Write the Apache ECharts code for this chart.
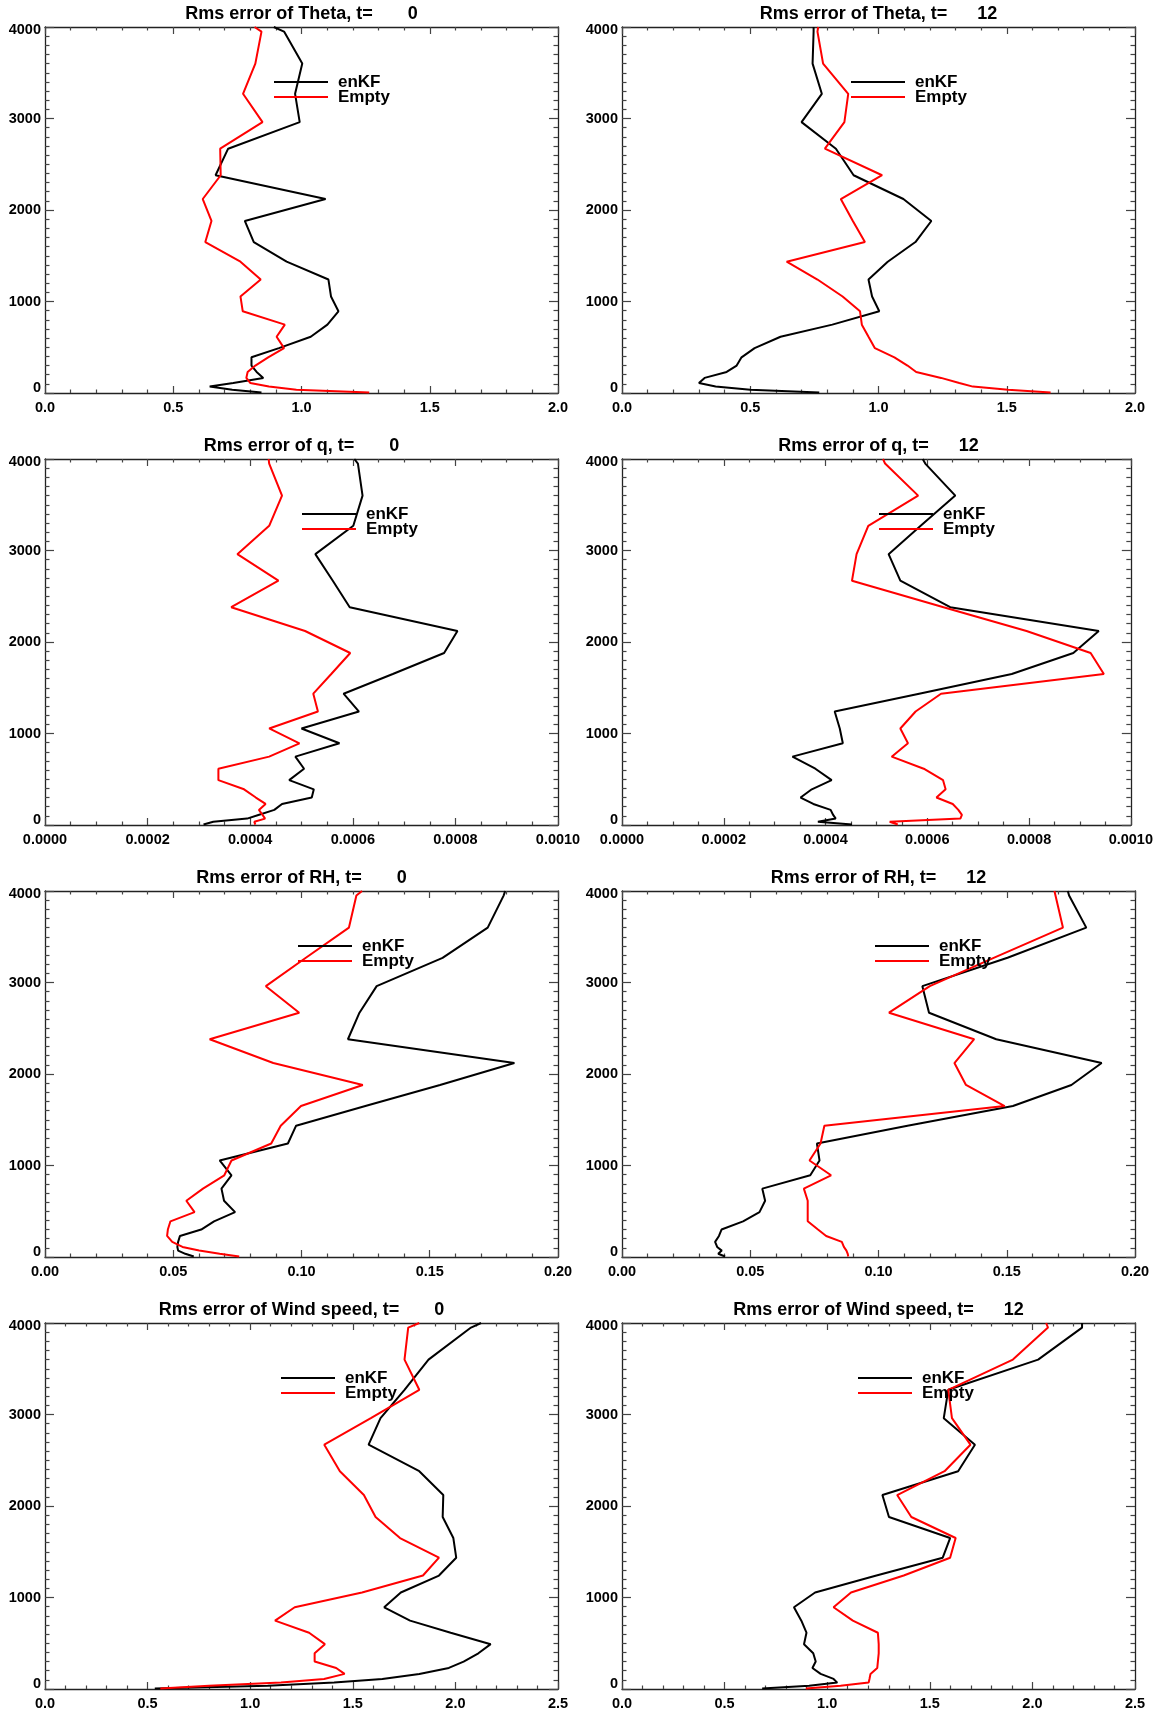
<!DOCTYPE html>
<html><head><meta charset="utf-8">
<script src="https://cdn.jsdelivr.net/npm/echarts@6/dist/echarts.min.js"></script>
<style>html,body{margin:0;padding:0;background:#fff}#c{width:1156px;height:1721px}</style>
</head><body><div id="c"></div>
<script>
// Heights (m) of the model levels
const levels = [5, 35, 70, 110, 165, 230, 300, 390, 490, 615, 747, 893, 1055, 1240, 1435, 1650, 1880, 2120, 2380, 2670, 2960, 3270, 3600, 3950, 4000];

// Theta
const thetaEnkf0  = [0.844,0.73,0.642,0.734,0.851,0.825,0.805,0.805,0.912,1.036,1.101,1.144,1.115,1.105,0.942,0.814,0.779,1.094,0.665,0.714,0.993,0.975,1.003,0.932,0.892];
const thetaEmpty0 = [1.264,0.98,0.873,0.80,0.785,0.79,0.82,0.87,0.932,0.903,0.935,0.771,0.762,0.841,0.762,0.625,0.649,0.615,0.685,0.683,0.848,0.772,0.82,0.844,0.817];
const thetaEnkf12  = [0.769,0.50,0.365,0.300,0.322,0.408,0.447,0.466,0.517,0.618,0.82,1.003,0.975,0.961,1.036,1.144,1.206,1.097,0.903,0.834,0.700,0.779,0.743,0.747,0.747];
const thetaEmpty12 = [1.671,1.505,1.368,1.315,1.244,1.147,1.113,1.062,0.986,0.961,0.935,0.928,0.860,0.762,0.642,0.947,0.900,0.853,1.014,0.791,0.867,0.882,0.784,0.762,0.765];

// q
const qEnkf0  = [0.000309,0.000328,0.000394,0.000416,0.000447,0.000462,0.000520,0.000524,0.000476,0.000505,0.000488,0.000574,0.000500,0.000612,0.000582,0.000678,0.000778,0.000804,0.000594,0.000561,0.000527,0.000601,0.000619,0.000610,0.000603];
const qEmpty0 = [0.000410,0.000408,0.000429,0.000424,0.000417,0.000430,0.000411,0.000388,0.000338,0.000338,0.000437,0.000496,0.000437,0.000532,0.000523,0.000558,0.000595,0.000507,0.000363,0.000455,0.000375,0.000437,0.000462,0.000437,0.000436];
const qEnkf12  = [0.000452,0.000385,0.000420,0.000415,0.000410,0.000376,0.000351,0.000373,0.000412,0.000380,0.000335,0.000434,0.000428,0.000418,0.000584,0.000766,0.000887,0.000937,0.000645,0.000547,0.000524,0.000587,0.000655,0.000596,0.000591];
const qEmpty12 = [0.000542,0.000526,0.000665,0.000668,0.000661,0.000650,0.000618,0.000636,0.000631,0.000593,0.000530,0.000562,0.000547,0.000577,0.000627,0.000947,0.000921,0.000795,0.000632,0.000452,0.000461,0.000484,0.000582,0.000517,0.000513];

// RH
const rhEnkf0  = [0.0580,0.0547,0.0519,0.0516,0.0519,0.0526,0.0609,0.0659,0.0741,0.0698,0.0688,0.0727,0.0681,0.0947,0.0979,0.1249,0.1540,0.1830,0.1181,0.1226,0.1293,0.1550,0.1726,0.1788,0.1794];
const rhEmpty0 = [0.0757,0.0681,0.0601,0.0536,0.0496,0.0476,0.0479,0.0489,0.0583,0.0551,0.0616,0.0699,0.0727,0.0882,0.0919,0.0998,0.1239,0.0890,0.0642,0.0991,0.0861,0.1017,0.1185,0.1214,0.1236];
const rhEnkf12  = [0.0402,0.0375,0.0389,0.0371,0.0363,0.0378,0.0388,0.0472,0.0536,0.0558,0.0547,0.0734,0.0770,0.0760,0.1113,0.1524,0.1752,0.1870,0.1459,0.1197,0.1171,0.1503,0.1810,0.1743,0.1738];
const rhEmpty12 = [0.0882,0.0880,0.0875,0.0865,0.0857,0.0796,0.0764,0.0724,0.0724,0.0724,0.0709,0.0815,0.0731,0.0774,0.0789,0.1492,0.1341,0.1296,0.1373,0.1041,0.1200,0.1449,0.1719,0.1690,0.1686];

// Wind speed
const windEnkf0  = [0.535,1.085,1.409,1.644,1.824,1.968,2.040,2.112,2.172,1.977,1.779,1.653,1.734,1.920,2.004,1.990,1.938,1.941,1.824,1.577,1.635,1.752,1.869,2.076,2.125];
const windEmpty0 = [0.562,0.80,1.15,1.36,1.460,1.419,1.314,1.314,1.364,1.287,1.121,1.217,1.545,1.842,1.920,1.730,1.611,1.554,1.437,1.361,1.588,1.824,1.752,1.770,1.824];
const windEnkf12  = [0.683,0.912,1.049,1.031,0.968,0.928,0.944,0.932,0.887,0.899,0.874,0.838,0.941,1.240,1.563,1.599,1.301,1.269,1.638,1.720,1.568,1.590,2.028,2.242,2.242];
const windEmpty12 = [0.896,1.065,1.202,1.206,1.211,1.244,1.247,1.251,1.251,1.247,1.125,1.031,1.116,1.373,1.599,1.626,1.410,1.341,1.572,1.698,1.608,1.590,1.905,2.076,2.067];

// Axis settings
const variables = ['Theta', 'q', 'RH', 'Wind speed'];
const times = [0, 12];
const xMax = [2.0, 0.001, 0.20, 2.5];
const xInterval = [0.5, 0.0002, 0.05, 0.5];
const xMinor = [5, 4, 5, 5];
const xDecimals = [1, 4, 2, 1];
const yTicks = [0, 1000, 2000, 3000, 4000];
const seriesNames = ['enKF', 'Empty'];
const seriesData = [
  [[thetaEnkf0, thetaEmpty0], [thetaEnkf12, thetaEmpty12]],
  [[qEnkf0, qEmpty0], [qEnkf12, qEmpty12]],
  [[rhEnkf0, rhEmpty0], [rhEnkf12, rhEmpty12]],
  [[windEnkf0, windEmpty0], [windEnkf12, windEmpty12]]
];

// Layout (positions kept separate from data)
const FONT = '"Liberation Sans", Arial, Helvetica, sans-serif';
const colLeft = [45, 622];
const rowTop = [27, 459, 891, 1323];
const W = 513, H = 366;
const legendOffset = [229, 257, 253, 236];
const colors = ['#000000', '#ff0000'];
const labelFont = {fontFamily: FONT, fontWeight: 'bold', fontSize: 14.5, color: '#000'};

const grid = [], xAxis = [], yAxis = [], series = [], title = [], legend = [];
let gi = 0;
const yMin = yTicks[0], yMax = yTicks[yTicks.length - 1];
for (let r = 0; r < 4; r++) {
  for (let c = 0; c < 2; c++) {
    const L = colLeft[c], T = rowTop[r];
    grid.push({left: L, top: T, width: W, height: H, containLabel: false});
    const dec = xDecimals[r];
    const tickStyle = {color: '#444', width: 1.2};
    const lineStyle = {color: '#222', width: 1.3};
    ['bottom', 'top'].forEach(pos => {
      xAxis.push({
        gridIndex: gi, type: 'value', position: pos, min: 0, max: xMax[r], interval: xInterval[r],
        axisLine: {show: true, onZero: false, lineStyle: lineStyle},
        axisTick: {show: true, inside: true, length: 7, lineStyle: tickStyle},
        minorTick: {show: true, splitNumber: xMinor[r], length: 3.5, lineStyle: tickStyle},
        splitLine: {show: false}, minorSplitLine: {show: false},
        axisLabel: Object.assign({show: pos === 'bottom', margin: 7,
          formatter: v => Number(v).toFixed(dec)}, labelFont)
      });
    });
    ['left', 'right'].forEach(pos => {
      yAxis.push({
        gridIndex: gi, type: 'value', position: pos, min: yMin, max: yMax, interval: yTicks[1] - yTicks[0],
        axisLine: {show: true, onZero: false, lineStyle: lineStyle},
        axisTick: {show: true, inside: true, length: 9, lineStyle: tickStyle},
        minorTick: {show: true, splitNumber: 10, length: 4.5, lineStyle: tickStyle},
        splitLine: {show: false}, minorSplitLine: {show: false},
        axisLabel: Object.assign({show: pos === 'left', margin: 4,
          formatter: v => {
            const s = String(Math.round(v));
            if (v >= yMax) return '{mx|' + s + '}';
            if (v <= yMin) return '{mn|' + s + '}';
            return s;
          },
          rich: {
            mx: Object.assign({padding: [5, 0, 0, 0]}, labelFont),
            mn: Object.assign({padding: [0, 0, 10, 0]}, labelFont)
          }}, labelFont)
      });
    });
    for (let s = 0; s < 2; s++) {
      const vals = seriesData[r][c][s];
      series.push({
        name: seriesNames[s], type: 'line', xAxisIndex: 2 * gi, yAxisIndex: 2 * gi,
        symbol: 'none', showSymbol: false, animation: false, z: 3,
        lineStyle: {color: colors[s], width: 2}, itemStyle: {color: colors[s]},
        data: levels.map((h, k) => [vals[k], h])
      });
    }
    title.push({
      text: 'Rms error of ' + variables[r] + ', t=' + String(times[c]).padStart(8, ' '),
      left: L + W / 2, top: T - 22, textAlign: 'center', padding: 0,
      textStyle: {fontFamily: FONT, fontWeight: 'bold', fontSize: 18, color: '#000'}
    });
    legend.push({
      data: seriesNames, orient: 'vertical', left: L + legendOffset[r], top: T + 46.5,
      padding: 0, itemGap: -2, itemWidth: 54, itemHeight: 2, icon: 'rect', selectedMode: false,
      textStyle: {fontFamily: FONT, fontWeight: 'bold', fontSize: 17, color: '#000', lineHeight: 15, padding: [0, 0, 0, 5]}
    });
    gi++;
  }
}

const chart = echarts.init(document.getElementById('c'), null, {renderer: 'canvas', width: 1156, height: 1721});
chart.setOption({backgroundColor: '#fff', animation: false, grid, xAxis, yAxis, series, title, legend});
</script>
</body></html>
